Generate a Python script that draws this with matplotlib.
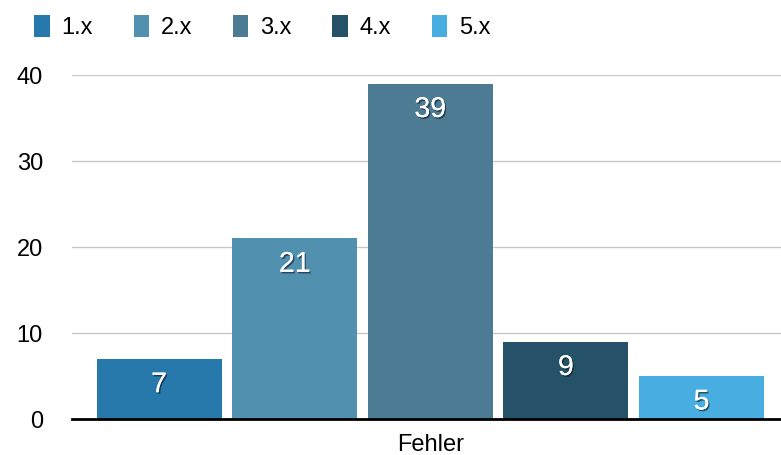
import matplotlib
matplotlib.use("Agg")
import matplotlib.pyplot as plt
import matplotlib.patheffects as pe
import numpy as np

series = ["1.x", "2.x", "3.x", "4.x", "5.x"]
values = [7, 21, 39, 9, 5]
category = "Fehler"
yticks = [0, 10, 20, 30, 40]
colors = ["#2778AB", "#5290B0", "#4C7B93", "#265269", "#48AEE2"]

plt.rcParams['font.family'] = ['Liberation Sans', 'DejaVu Sans']

fig = plt.figure(figsize=(7.81, 4.55), dpi=100)
ax = fig.add_axes([72/781, 36/455, 1 - 72/781, 344/455])

step = 1.0
width = 0.922
pos = (np.arange(len(series)) - 2) * step
handles = []
for p, v, c, s in zip(pos, values, colors, series):
    b = ax.bar(p, v, width=width, color=c, label=s, zorder=3)
    handles.append(b)
    ax.annotate(str(v), xy=(p, v), xytext=(0, -19), textcoords="offset points",
                ha="center", va="center", color="white", fontsize=20.5, zorder=5,
                path_effects=[pe.withSimplePatchShadow(offset=(1, -1.2), shadow_rgbFace="#0a1a25", alpha=0.6),
                              pe.Normal()])

ax.set_xlim(-2.642, 2.586)
ax.set_ylim(0, 40)
ax.set_yticks(yticks)
ax.set_xticks([0])
ax.set_xticklabels([category])
ax.yaxis.grid(True, color="#c8c8c8", linewidth=1, zorder=0)
ax.tick_params(axis="y", length=0, pad=21, labelsize=17)
ax.tick_params(axis="x", length=0, pad=11, labelsize=17)
for sp in ["top", "right", "left"]:
    ax.spines[sp].set_visible(False)
ax.spines["bottom"].set_linewidth(2)
ax.spines["bottom"].set_color("black")
ax.spines["bottom"].set_zorder(4)

fig.legend(handles=handles, labels=series, loc="upper left", bbox_to_anchor=(25/781, 1 - 6/455),
           ncol=5, frameon=False, fontsize=17, handlelength=0.65, handleheight=1.05,
           handletextpad=0.5, columnspacing=1.72, borderaxespad=0)

fig.savefig("out.png", dpi=100)
